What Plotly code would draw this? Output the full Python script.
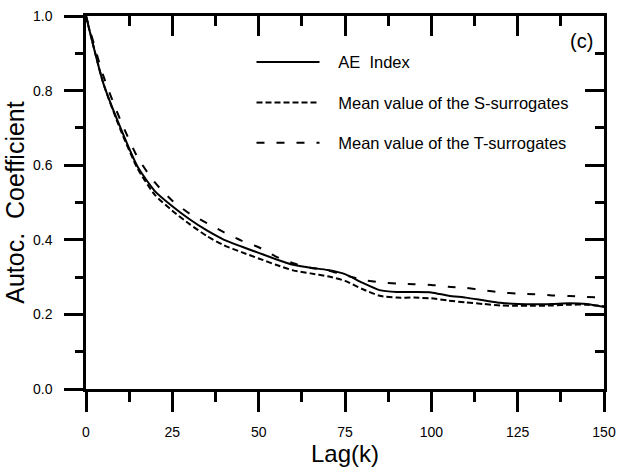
import plotly.graph_objects as go

lags = list(range(0, 151, 5))
ae_index = [1.0, 0.82, 0.70, 0.595, 0.53, 0.49, 0.455, 0.425, 0.40, 0.382, 0.365,
            0.348, 0.333, 0.325, 0.319, 0.308, 0.285, 0.265, 0.26, 0.26, 0.259,
            0.25, 0.245, 0.238, 0.231, 0.228, 0.227, 0.228, 0.23, 0.228, 0.22]
s_surr = [1.0, 0.82, 0.695, 0.59, 0.52, 0.478, 0.442, 0.41, 0.385, 0.367, 0.35,
          0.333, 0.318, 0.31, 0.302, 0.29, 0.268, 0.25, 0.245, 0.245, 0.243,
          0.237, 0.232, 0.228, 0.224, 0.223, 0.223, 0.224, 0.226, 0.226, 0.222]
t_surr = [1.0, 0.84, 0.72, 0.62, 0.553, 0.505, 0.47, 0.445, 0.42, 0.398, 0.38,
          0.355, 0.337, 0.325, 0.318, 0.305, 0.293, 0.286, 0.283, 0.281, 0.279,
          0.274, 0.271, 0.265, 0.259, 0.256, 0.254, 0.251, 0.249, 0.247, 0.245]
names = ["AE  Index", "Mean value of the S-surrogates", "Mean value of the T-surrogates"]
x_ticks = [0, 25, 50, 75, 100, 125, 150]
y_ticks = [0.0, 0.2, 0.4, 0.6, 0.8, 1.0]
x_minor = [12.5, 37.5, 62.5, 87.5, 112.5, 137.5]
y_minor = [0.1, 0.3, 0.5, 0.7, 0.9]

FONT = "Liberation Sans, Arial, sans-serif"
PAD = "\u00a0\u00a0\u00a0"
fig = go.Figure()
styles = ["solid", "6px,3px", "8px,12px"]
for i, (ys, nm) in enumerate(zip([ae_index, s_surr, t_surr], names)):
    fig.add_trace(go.Scatter(x=lags, y=ys, mode="lines", name=PAD + nm, legendgroup=str(i),
                             line=dict(color="black", width=2, dash=styles[i],
                                       shape="spline", smoothing=0.6)))
# invisible trace to carry the mirrored (top/right) axes
fig.add_trace(go.Scatter(x=lags, y=ae_index, xaxis="x2", yaxis="y2", mode="lines",
                         line=dict(width=0), opacity=0, showlegend=False, hoverinfo="skip"))

fig.update_layout(
    width=618, height=472,
    margin=dict(l=86, r=14, t=16, b=83, autoexpand=False),
    paper_bgcolor="white", plot_bgcolor="white",
    font=dict(family=FONT, color="black"),
    showlegend=True,
    legend=dict(x=0.3195, y=0.923, xanchor="left", yanchor="top", bgcolor="rgba(0,0,0,0)",
                font=dict(size=16.5, family=FONT), tracegroupgap=16, itemwidth=63),
    xaxis=dict(range=[0, 150], tickvals=x_ticks, ticktext=[str(v) for v in x_ticks],
               ticks="outside", ticklen=20, tickwidth=2.5, tickcolor="black",
               minor=dict(tickvals=x_minor, ticks="outside",
                          ticklen=10, tickwidth=2.5, tickcolor="black"),
               showline=True, linewidth=2.5, linecolor="black", showgrid=False, zeroline=False,
               tickfont=dict(size=14), ticklabelstandoff=8, automargin=False,
               title=dict(text="Lag(k)", font=dict(size=24), standoff=6)),
    yaxis=dict(range=[0, 1], tickvals=y_ticks, ticktext=[f"{v:.1f}" for v in y_ticks],
               ticks="outside", ticklen=19, tickwidth=2.5, tickcolor="black",
               minor=dict(tickvals=y_minor, ticks="outside",
                          ticklen=8, tickwidth=2.5, tickcolor="black"),
               showline=True, linewidth=2.5, linecolor="black", showgrid=False, zeroline=False,
               tickfont=dict(size=14), ticklabelstandoff=9, automargin=False,
               title=dict(text="Autoc.  Coefficient", font=dict(size=25), standoff=2)),
    xaxis2=dict(range=[0, 150], overlaying="x", side="top", tickvals=x_ticks,
                ticks="inside", ticklen=20, tickwidth=2.5, tickcolor="black",
                minor=dict(tickvals=x_minor, ticks="inside",
                           ticklen=10, tickwidth=2.5, tickcolor="black"),
                showticklabels=False, showline=True, linewidth=2.5, linecolor="black",
                showgrid=False, zeroline=False, automargin=False),
    yaxis2=dict(range=[0, 1], overlaying="y", side="right", tickvals=y_ticks,
                ticks="inside", ticklen=19, tickwidth=2.5, tickcolor="black",
                minor=dict(tickvals=y_minor, ticks="inside",
                           ticklen=9, tickwidth=2.5, tickcolor="black"),
                showticklabels=False, showline=True, linewidth=2.5, linecolor="black",
                showgrid=False, zeroline=False, automargin=False),
    annotations=[dict(text="(c)", x=0.982, y=0.968, xref="paper", yref="paper",
                      xanchor="right", yanchor="top", showarrow=False,
                      font=dict(size=20, family=FONT))],
)
fig.write_html("out.html")
